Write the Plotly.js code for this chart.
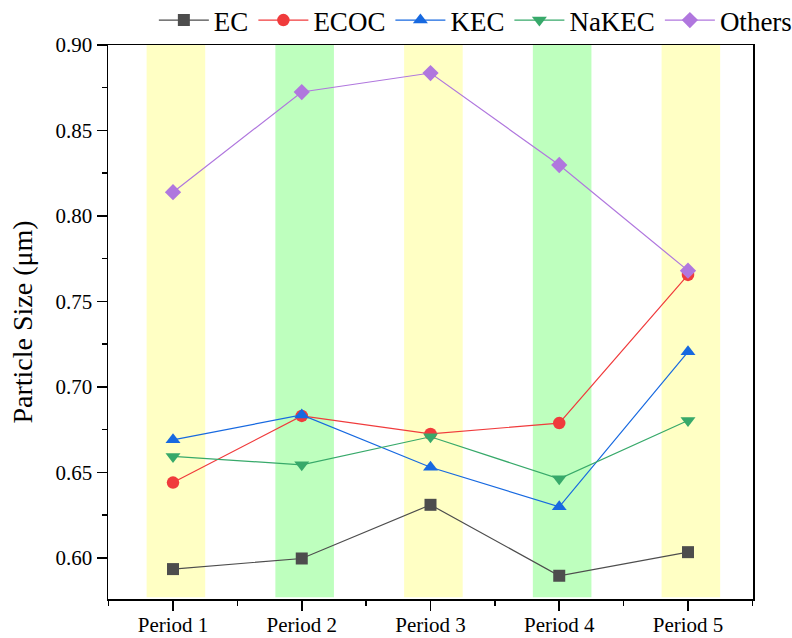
<!DOCTYPE html>
<html>
<head>
<meta charset="utf-8">
<script src="https://cdn.plot.ly/plotly-3.0.1.min.js"></script>
<style>html,body{margin:0;padding:0;background:#fff;}#chart{width:792px;height:638px;}</style>
</head>
<body>
<div id="chart"></div>
<script>
const periods = ['Period 1', 'Period 2', 'Period 3', 'Period 4', 'Period 5'];
const ec     = [0.5934, 0.5996, 0.6310, 0.5895, 0.6033];
const ecoc   = [0.6440, 0.6830, 0.6725, 0.6788, 0.7655];
const kec    = [0.6690, 0.6836, 0.6530, 0.6298, 0.7205];
const nakec  = [0.6593, 0.6544, 0.6708, 0.6462, 0.6803];
const others = [0.8139, 0.8725, 0.8836, 0.8298, 0.7680];
const bandColors = ['#FFFFC4', '#BEFFBE', '#FFFFC4', '#BEFFBE', '#FFFFC4'];

const xs = periods.map((p, i) => i + 1);
const font = "'Liberation Serif', 'Times New Roman', serif";

function tr(name, y, color, symbol, size) {
  return {
    x: xs, y: y, name: name, type: 'scatter', mode: 'lines+markers',
    line: {color: color, width: 1.2},
    marker: {color: color, symbol: symbol, size: size, line: {width: 0}}
  };
}
const data = [
  tr('EC', ec, '#4D4D4D', 'square', 12),
  tr('ECOC', ecoc, '#F03B3C', 'circle', 12.5),
  tr('KEC', kec, '#1769E0', 'triangle-up', 13),
  tr('NaKEC', nakec, '#37A96A', 'triangle-down', 13),
  tr('Others', others, '#B077DE', 'diamond', 12.5)
];

const shapes = xs.map((x, i) => ({
  type: 'rect', xref: 'x', yref: 'paper', layer: 'below',
  x0: x - 0.205, x1: x + 0.25, y0: 0.003, y1: 1,
  fillcolor: bandColors[i], line: {width: 0}
}));

const layout = {
  width: 792, height: 638,
  margin: {l: 108, r: 39, t: 44.5, b: 39, autoexpand: false},
  paper_bgcolor: '#fff', plot_bgcolor: '#fff',
  font: {family: font, color: '#000'},
  showlegend: true,
  legend: {orientation: 'h', x: 1.068, xanchor: 'right', y: 1.0, yanchor: 'bottom',
    font: {family: font, size: 27, color: '#000'}, itemwidth: 50, tracegroupgap: 0,
    bgcolor: 'rgba(0,0,0,0)'},
  xaxis: {
    range: [0.495, 5.505], tickvals: xs, ticktext: periods,
    showgrid: false, zeroline: false, showline: true, mirror: true, linecolor: '#000', linewidth: 1.5,
    ticks: 'outside', ticklen: 10, tickwidth: 1.5, tickcolor: '#000', ticklabelstandoff: -4,
    tickfont: {family: font, size: 21, color: '#000'},
    minor: {tick0: 0.5, dtick: 1, ticks: 'outside', ticklen: 5, tickwidth: 1.5, tickcolor: '#000', showgrid: false}
  },
  yaxis: {
    range: [0.5759, 0.90], tick0: 0.6, dtick: 0.05, tickformat: '.2f',
    showgrid: false, zeroline: false, showline: true, mirror: true, linecolor: '#000', linewidth: 1.5,
    ticks: 'outside', ticklen: 10, tickwidth: 1.5, tickcolor: '#000',
    tickfont: {family: font, size: 21, color: '#000'},
    minor: {dtick: 0.025, ticks: 'outside', ticklen: 5, tickwidth: 1.5, tickcolor: '#000', showgrid: false},
    title: {text: 'Particle Size (μm)', font: {family: font, size: 28, color: '#000'}, standoff: 14}
  },
  shapes: shapes
};

Plotly.newPlot('chart', data, layout, {displayModeBar: false, staticPlot: true});
</script>
</body>
</html>
